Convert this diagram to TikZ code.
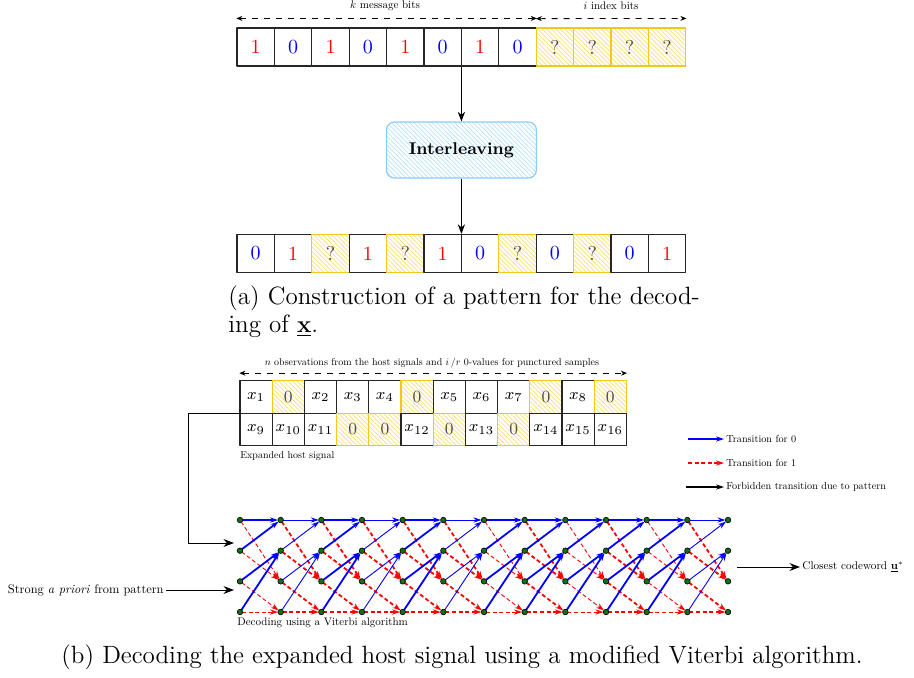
\documentclass[tikz,border=0pt]{standalone}
\usepackage{amsmath,amssymb}
\usepackage{graphicx}
\usepackage{xcolor}
\usepackage{tikz}
\usetikzlibrary{arrows.meta,calc,patterns.meta}

\definecolor{gold}{RGB}{240,200,30}
\definecolor{hatchy}{RGB}{250,222,110}
\definecolor{ilvline}{RGB}{140,205,245}
\definecolor{ilvhatch}{RGB}{180,225,250}
\definecolor{dotgreen}{RGB}{20,110,20}

\newcommand{\tinylab}[2][0.5]{\scalebox{#1}{#2}}

\tikzset{
  cell/.style={draw=black!85,line width=0.6pt,minimum width=18.7pt,minimum height=19pt,
    inner sep=0pt,font=\fontsize{10}{12}\selectfont},
  gcell/.style={cell,minimum width=16.1pt,minimum height=16.25pt,font=\fontsize{8.5}{10}\selectfont},
  one/.style={text=red},
  zero/.style={text=blue},
  obs/.style={},
  unk/.style={draw=gold,pattern={Lines[angle=-45,distance=1.6pt,line width=0.35pt]},
    pattern color=hatchy,text=black!70},
  lab/.style={font=\fontsize{10}{12}\selectfont,inner sep=1pt},
  captext/.style={font=\fontsize{12.5}{15}\selectfont,inner sep=0pt},
  spanarrow/.style={dashed,line width=0.4pt,{Stealth[length=3pt,width=2.5pt]}-{Stealth[length=3pt,width=2.5pt]}},
  t0edge/.style={blue,-{Stealth[length=4pt,width=2.6pt]},shorten >=1.3pt,shorten <=1pt},
  t1edge/.style={red,dashed,dash pattern=on 2pt off 1.3pt,-{Stealth[length=4pt,width=2.6pt]},shorten >=1.3pt,shorten <=1pt},
  fbedge/.style={black,-{Stealth[length=4pt,width=2.6pt]}},
  tdot/.style={circle,fill=dotgreen,draw=black,line width=0.3pt,inner sep=0pt,minimum size=2.8pt},
}

\begin{document}
\begin{tikzpicture}[x=0.5pt,y=-0.5pt,>=Stealth,line join=round]
  \useasboundingbox (0,0) rectangle (914,677);
  % (a) pattern construction
  \foreach \v/\s [count=\i from 0] in {1/one,0/zero,1/one,0/zero,1/one,0/zero,1/one,0/zero,?/unk,?/unk,?/unk,?/unk}
    \node[cell,\s] (top\i) at ({237+37.4*(\i+0.5)},47) {\v};
  \draw[spanarrow] ([yshift=4.5pt]top0.north west) -- ([yshift=4.5pt]top7.north east);
  \draw[spanarrow] ([yshift=4.5pt]top8.north west) -- ([yshift=4.5pt]top11.north east);
  \node[lab] (kbits) at (385,6) {\tinylab[0.55]{$k$ message bits}};
  \node[lab] (ibits) at (611,6) {\tinylab[0.55]{$i$ index bits}};
  \node[draw=ilvline,line width=0.6pt,rounded corners=4pt,minimum width=75pt,minimum height=28pt,
    pattern={Lines[angle=-45,distance=1.6pt,line width=0.35pt]},pattern color=ilvhatch,
    font=\fontsize{8.5}{10}\selectfont\bfseries] (ilv) at (461.4,150) {Interleaving};
  \foreach \v/\s [count=\i from 0] in {0/zero,1/one,?/unk,1/one,?/unk,1/one,0/zero,?/unk,0/zero,?/unk,0/zero,1/one}
    \node[cell,\s] (bot\i) at ({237+37.4*(\i+0.5)},253.5) {\v};
  \draw[->] (ilv.north |- top5.south) -- (ilv.north);
  \draw[->] (ilv.south) -- (ilv.south |- bot5.north);
  \node[captext,anchor=west] (capa1) at (228,298) {(a) Construction of a pattern for the decod-};
  \node[captext,anchor=west] (capa2) at (228,326) {ing of $\underline{\mathbf{x}}$.};

  % (b) expanded host signal
  \foreach \v/\s [count=\i from 0] in {$x_{1}$/obs,0/unk,$x_{2}$/obs,$x_{3}$/obs,$x_{4}$/obs,0/unk,$x_{5}$/obs,$x_{6}$/obs,$x_{7}$/obs,0/unk,$x_{8}$/obs,0/unk}
    \node[gcell,\s] (ga\i) at ({240+32.2*(\i+0.5)},397) {\v};
  \foreach \v/\s [count=\i from 0] in {$x_{9}$/obs,$x_{10}$/obs,$x_{11}$/obs,0/unk,0/unk,$x_{12}$/obs,0/unk,$x_{13}$/obs,0/unk,$x_{14}$/obs,$x_{15}$/obs,$x_{16}$/obs}
    \node[gcell,\s] (gb\i) at ({240+32.2*(\i+0.5)},429.5) {\v};
  \draw[spanarrow] ([yshift=3.5pt]ga0.north west) -- ([yshift=3.5pt]ga11.north east);
  \node[lab] (nobs) at (432,363) {\tinylab{$n$ observations from the host signals and $i\,/r$ 0-values for punctured samples}};
  \node[lab,anchor=west] (hostlab) at (238,456) {\tinylab{Expanded host signal}};

  % trellis
  \foreach \j in {0,...,12}
    \foreach \r in {0,...,3}
      \coordinate (t\j-\r) at ({240+40.67*\j},{520+30.67*\r});
  \foreach \wz/\wo [count=\j] in {0.9/0.45,0.45/0.9,0.9/0.9,0.45/0.9,0.9/0.9,0.45/0.9,0.9/0.45,0.9/0.9,0.9/0.45,0.9/0.9,0.9/0.45,0.45/0.9}{
    \pgfmathtruncatemacro{\p}{\j-1}
    \draw[t1edge,line width=\wo pt] (t\p-0) -- (t\j-2);
    \draw[t1edge,line width=\wo pt] (t\p-1) -- (t\j-2);
    \draw[t1edge,line width=\wo pt] (t\p-2) -- (t\j-3);
    \draw[t1edge,line width=\wo pt] (t\p-3) -- (t\j-3);
    \draw[t0edge,line width=\wz pt] (t\p-0) -- (t\j-0);
    \draw[t0edge,line width=\wz pt] (t\p-1) -- (t\j-0);
    \draw[t0edge,line width=\wz pt] (t\p-2) -- (t\j-1);
    \draw[t0edge,line width=\wz pt] (t\p-3) -- (t\j-1);
  }
  \foreach \j in {0,...,12}
    \foreach \r in {0,...,3}
      \node[tdot] (d\j-\r) at (t\j-\r) {};
  \node[lab,anchor=west] (vitlab) at (235,623) {\tinylab[0.55]{Decoding using a Viterbi algorithm}};

  % inputs and output of the decoder
  \coordinate (hsout) at (240,413);
  \coordinate (hsin) at (234,543);
  \draw[->,line width=0.5pt] (hsout) -- ++(-52,0) |- (hsin);
  \node[lab,anchor=east] (apri) at (166,590) {\tinylab[0.62]{Strong \textit{a priori} from pattern}};
  \coordinate (aprin) at (234,590);
  \draw[->,line width=0.5pt] (apri.east) -- (aprin);
  \coordinate (cwout) at (737,567);
  \node[lab,anchor=west] (cw) at (800,567) {\tinylab[0.56]{Closest codeword $\underline{\mathbf{u}}^{*}$}};
  \draw[->,line width=0.5pt] (cwout) -- (cw.west);

  % legend
  \node[lab,anchor=west] (leg0) at (724,439) {\tinylab[0.51]{Transition for 0}};
  \node[lab,anchor=west] (leg1) at (724,463) {\tinylab[0.51]{Transition for 1}};
  \node[lab,anchor=west] (leg2) at (724,487) {\tinylab[0.51]{Forbidden transition due to pattern}};
  \coordinate (leg0s) at (686,439);
  \coordinate (leg1s) at (686,463);
  \coordinate (leg2s) at (686,487);
  \draw[t0edge,line width=0.9pt,shorten >=0pt] (leg0s) -- (leg0.west);
  \draw[t1edge,line width=0.9pt,shorten >=0pt] (leg1s) -- (leg1.west);
  \draw[fbedge,line width=0.7pt] (leg2s) -- (leg2.west);

  \node[captext] (capb) at (462,657) {(b) Decoding the expanded host signal using a modified Viterbi algorithm.};
\end{tikzpicture}
\end{document}
